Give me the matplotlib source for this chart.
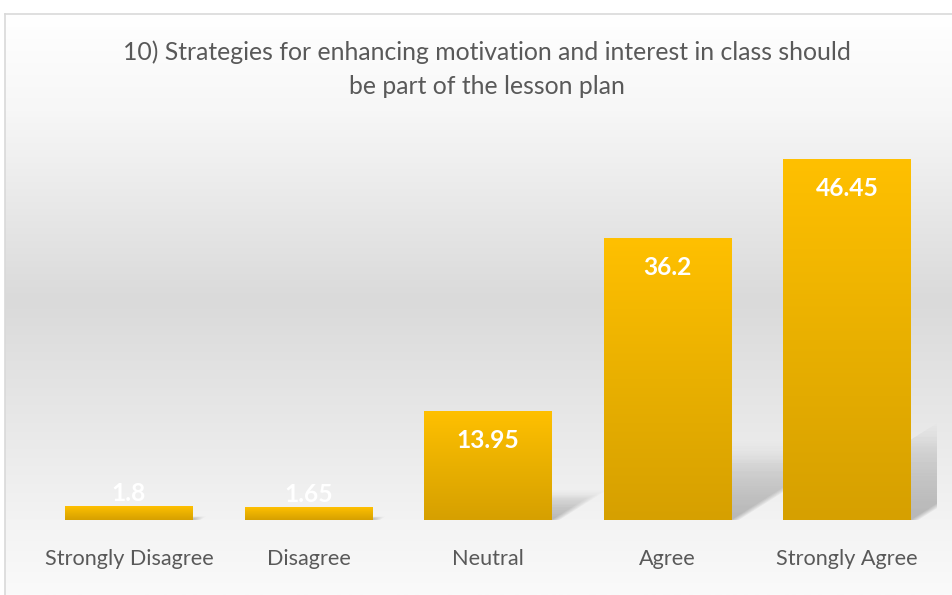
import numpy as np
import matplotlib.pyplot as plt
from matplotlib.colors import LinearSegmentedColormap
from matplotlib.patches import Polygon

categories = ['Strongly Disagree', 'Disagree', 'Neutral', 'Agree', 'Strongly Agree']
values = [1.8, 1.65, 13.95, 36.2, 46.45]
value_labels = ['1.8', '1.65', '13.95', '36.2', '46.45']
title = ('10) Strategies for enhancing motivation and interest in class should\n'
         'be part of the lesson plan')

plt.rcParams['font.family'] = ['Lato', 'DejaVu Sans']

W, H = 952, 595
fig = plt.figure(figsize=(W / 100, H / 100), dpi=100)
fig.patch.set_facecolor('white')

# chart area with grey vertical gradient
bg = fig.add_axes([5 / W, 0, 1 - 5 / W, 1 - 14 / H])
bg_cmap = LinearSegmentedColormap.from_list('bg', [
    (0.0, '#fafafa'), (0.129, '#f3f3f3'), (0.508, '#dadada'),
    (0.835, '#f7f7f7'), (1.0, '#ffffff')])
bg.imshow(np.linspace(0, 1, 256).reshape(-1, 1), cmap=bg_cmap, aspect='auto',
          origin='lower', extent=(0, 1, 0, 1))
bg.set_xlim(0, 1)
bg.set_ylim(0, 1)
bg.set_xticks([])
bg.set_yticks([])
for side in ['right', 'bottom']:
    bg.spines[side].set_visible(False)
for side in ['left', 'top']:
    bg.spines[side].set_color('#d9d9d9')
    bg.spines[side].set_linewidth(1.2)

# plot area
ax = fig.add_axes([39.25 / W, (H - 520) / H, (936.75 - 39.25) / W, (520 - 131.5) / H])
ax.patch.set_alpha(0)
x = np.arange(len(categories))
bars = ax.bar(x, values, width=0.713, color='none', zorder=3)

bar_cmap = LinearSegmentedColormap.from_list('bar', ['#d6a000', '#e9b000', '#ffc000'])
grad = np.linspace(0, 1, 256).reshape(-1, 1)

for bar, v in zip(bars, values):
    x0 = bar.get_x()
    x1 = x0 + bar.get_width()
    # soft shadow falling up and to the right, a few layers for blur
    for k in range(5):
        s = 0.85 + 0.07 * k
        dy = 0.25 * v * s
        dx = 0.0172 * v * s
        shadow = Polygon([(x0, 0), (x1 + 0.01 * k, 0), (x1 + dx + 0.01 * k, dy),
                          (x0 + dx, dy)],
                         closed=True, facecolor='none', edgecolor='none',
                         transform=ax.transData)
        ax.add_patch(shadow)
        t = np.linspace(0, 1, 128)
        rgba = np.zeros((128, 1, 4))
        rgba[:, 0, 3] = 0.055 * (1 - t) ** 0.6
        img = ax.imshow(rgba, extent=(x0, x1 + dx + 0.05, 0, dy), origin='lower',
                        aspect='auto', zorder=2, interpolation='bilinear')
        img.set_clip_path(shadow)

    ax.imshow(grad, cmap=bar_cmap, extent=(x0, x1, 0, v), origin='lower',
              aspect='auto', zorder=3)

for xi, v, lab in zip(x, values, value_labels):
    off = -29 if v > 5 else 13
    ax.annotate(lab, (xi, v), xytext=(0, off), textcoords='offset pixels',
                ha='center', va='center', color='white', fontweight='bold',
                fontsize=17.7, zorder=5)

ax.set_xlim(-0.5, len(categories) - 0.5)
ax.set_ylim(0, 50)
ax.set_yticks([])
ax.set_xticks(x)
ax.set_xticklabels(categories, fontsize=15.6, color='#595959')
ax.tick_params(axis='x', length=0, pad=21)
for s in ax.spines.values():
    s.set_visible(False)

fig.text(486.5 / W, 1 - 69.5 / H, title, ha='center', va='center',
         fontsize=17.8, color='#595959', linespacing=1.58)

fig.savefig('out.png', dpi=100)
